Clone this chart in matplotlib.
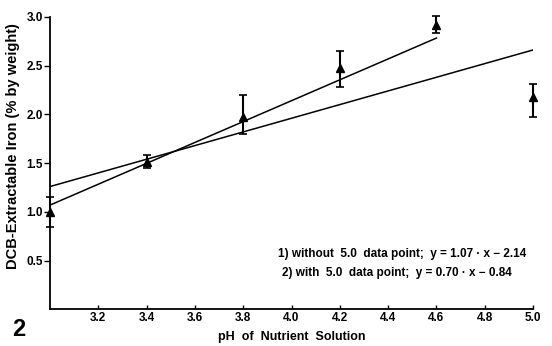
import numpy as np
import matplotlib.pyplot as plt

plt.rcParams['font.family'] = ['Liberation Sans Narrow', 'Liberation Sans', 'DejaVu Sans']
plt.rcParams['font.weight'] = 'bold'
plt.rcParams['axes.labelweight'] = 'bold'

# measured points
ph = [3.0, 3.4, 3.8, 4.2, 4.6, 5.0]
iron = [1.00, 1.51, 1.97, 2.47, 2.92, 2.18]
err_lo = [0.15, 0.06, 0.17, 0.19, 0.09, 0.21]
err_hi = [0.15, 0.07, 0.23, 0.18, 0.09, 0.13]

# fitted lines: 1) without 5.0 point, 2) with 5.0 point
fit1 = (1.07, -2.14)
fit2 = (0.70, -0.84)
fit1_range = [3.0, 4.6]
fit2_range = [3.0, 5.03]

fig = plt.figure(figsize=(5.52, 3.46), dpi=100)
ax = fig.add_axes([0.0906, 0.1055, 0.875, 0.846])

x1 = np.array(fit1_range)
x2 = np.array(fit2_range)
ax.plot(x1, fit1[0] * x1 + fit1[1], color='black', lw=1.1)
ax.plot(x2, fit2[0] * x2 + fit2[1], color='black', lw=1.1)

ax.errorbar(ph, iron, yerr=[err_lo, err_hi], fmt='^', color='black', ms=6,
            capsize=3, elinewidth=1.5, capthick=1.2, clip_on=False)

ax.set_xlim(3.0, 5.0)
ax.set_ylim(0, 3.0)
ax.set_xticks([3.2, 3.4, 3.6, 3.8, 4.0, 4.2, 4.4, 4.6, 4.8, 5.0])
ax.set_yticks([0.5, 1.0, 1.5, 2.0, 2.5, 3.0])
ax.tick_params(axis='x', direction='in', length=3, width=1, labelsize=8.5, pad=2)
ax.tick_params(axis='y', direction='out', length=4, width=1, labelsize=8.5, pad=1)
for s in ['top', 'right']:
    ax.spines[s].set_visible(False)
for s in ['left', 'bottom']:
    ax.spines[s].set_linewidth(1.3)

ax.set_xlabel('pH  of  Nutrient  Solution', fontsize=9, labelpad=5)
ax.set_ylabel('DCB-Extractable Iron (% by weight)', fontsize=10.5)
ax.yaxis.set_label_coords(-0.062, 0.56)

fig.text(0.503, 0.257, '1) without  5.0  data point;  y = 1.07 · x − 2.14', fontsize=8.5)
fig.text(0.511, 0.202, '2) with  5.0  data point;  y = 0.70 · x − 0.84', fontsize=8.5)
fig.text(0.022, 0.03, '2', fontsize=17, fontweight='bold')

fig.savefig('out.png', dpi=100)
